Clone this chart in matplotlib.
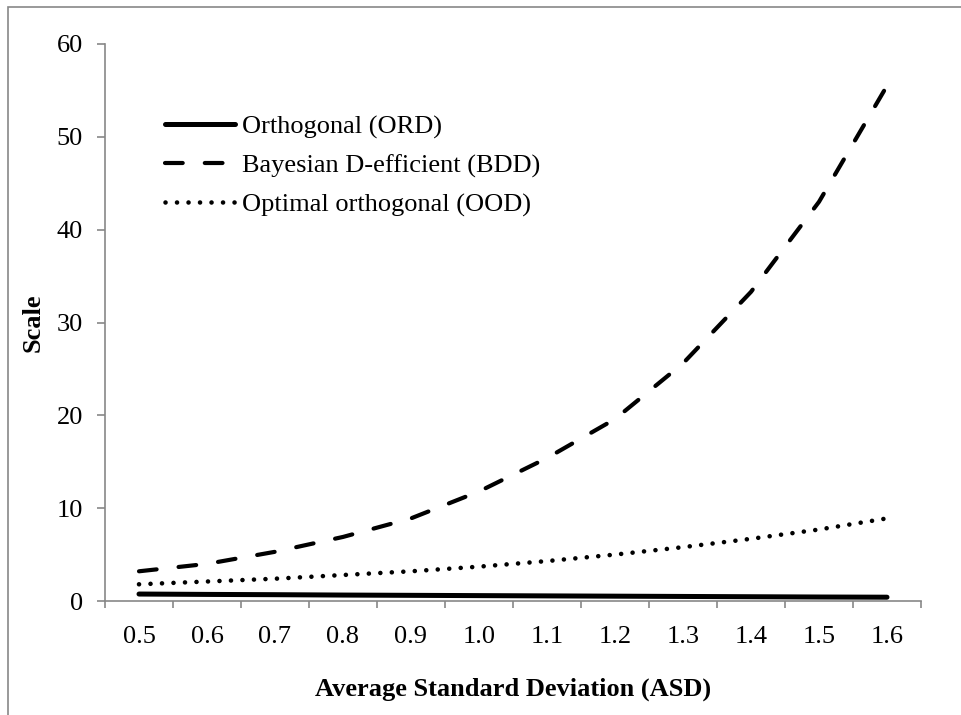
import matplotlib
matplotlib.use('Agg')
import matplotlib.pyplot as plt
from matplotlib.patches import Rectangle
import numpy as np

asd = [0.5, 0.6, 0.7, 0.8, 0.9, 1.0, 1.1, 1.2, 1.3, 1.4, 1.5, 1.6]
ord_scale = [0.75, 0.71, 0.68, 0.64, 0.61, 0.58, 0.55, 0.52, 0.49, 0.46, 0.43, 0.41]
bdd_scale = [3.2, 4.0, 5.3, 6.9, 8.9, 11.8, 15.4, 19.6, 25.6, 33.3, 43.0, 55.5]
ood_scale = [1.8, 2.1, 2.4, 2.8, 3.2, 3.7, 4.3, 5.0, 5.8, 6.7, 7.7, 8.9]
labels = ['Orthogonal (ORD)', 'Bayesian D-efficient (BDD)', 'Optimal orthogonal (OOD)']

plt.rcParams['font.family'] = ['Liberation Serif', 'DejaVu Serif']
grey = '#878787'
fs = 19

fig = plt.figure(figsize=(9.62, 7.15), dpi=100)
ax = fig.add_axes([105/962, 1 - 601/715, 816/962, 557/715])

l1, = ax.plot(asd, ord_scale, color='black', lw=3.6, solid_capstyle='round')
l2, = ax.plot(asd, bdd_scale, color='black', lw=3, linestyle=(0, (4.25, 5.3)),
              dash_capstyle='round')
l3, = ax.plot(asd, ood_scale, color='black', lw=3.3, linestyle=(0, (0.01, 2.5)),
              dash_capstyle='round')

ax.set_xlim(0.45, 1.65)
ax.set_ylim(0, 60)
ax.set_yticks(np.arange(0, 61, 10))
ax.set_xticks(np.arange(0.45, 1.66, 0.1))
ax.set_xticklabels([])
ax.set_xticks(asd, minor=True)
ax.set_xticklabels(['%.1f' % v for v in asd], minor=True)

for s in ['top', 'right']:
    ax.spines[s].set_visible(False)
for s in ['left', 'bottom']:
    ax.spines[s].set_color(grey)
    ax.spines[s].set_linewidth(1.2)

ax.tick_params(axis='y', which='major', direction='out', length=6, width=1.2,
               color=grey, labelsize=fs, pad=10)
ax.tick_params(axis='x', which='major', direction='out', length=5, width=1.2,
               color=grey)
ax.tick_params(axis='x', which='minor', length=0, labelsize=fs, pad=18)

ax.set_xlabel('Average Standard Deviation (ASD)', fontsize=fs, fontweight='bold',
              labelpad=21)
ax.set_ylabel('Scale', fontsize=fs, fontweight='bold', labelpad=8.5)

ax.legend([l1, l2, l3], labels, loc='upper left', frameon=False, fontsize=fs,
          bbox_to_anchor=(165/962, 1 - 115/715), bbox_transform=fig.transFigure,
          handlelength=2.65, handletextpad=0.27, labelspacing=0.57, borderpad=0,
          borderaxespad=0)

fig.patches.append(Rectangle((8/962, -0.1), 1.2, 708/715 + 0.1, transform=fig.transFigure,
                             fill=False, edgecolor=grey, lw=1.2))

plt.savefig('out.png', format='png', dpi=100)
plt.close()
